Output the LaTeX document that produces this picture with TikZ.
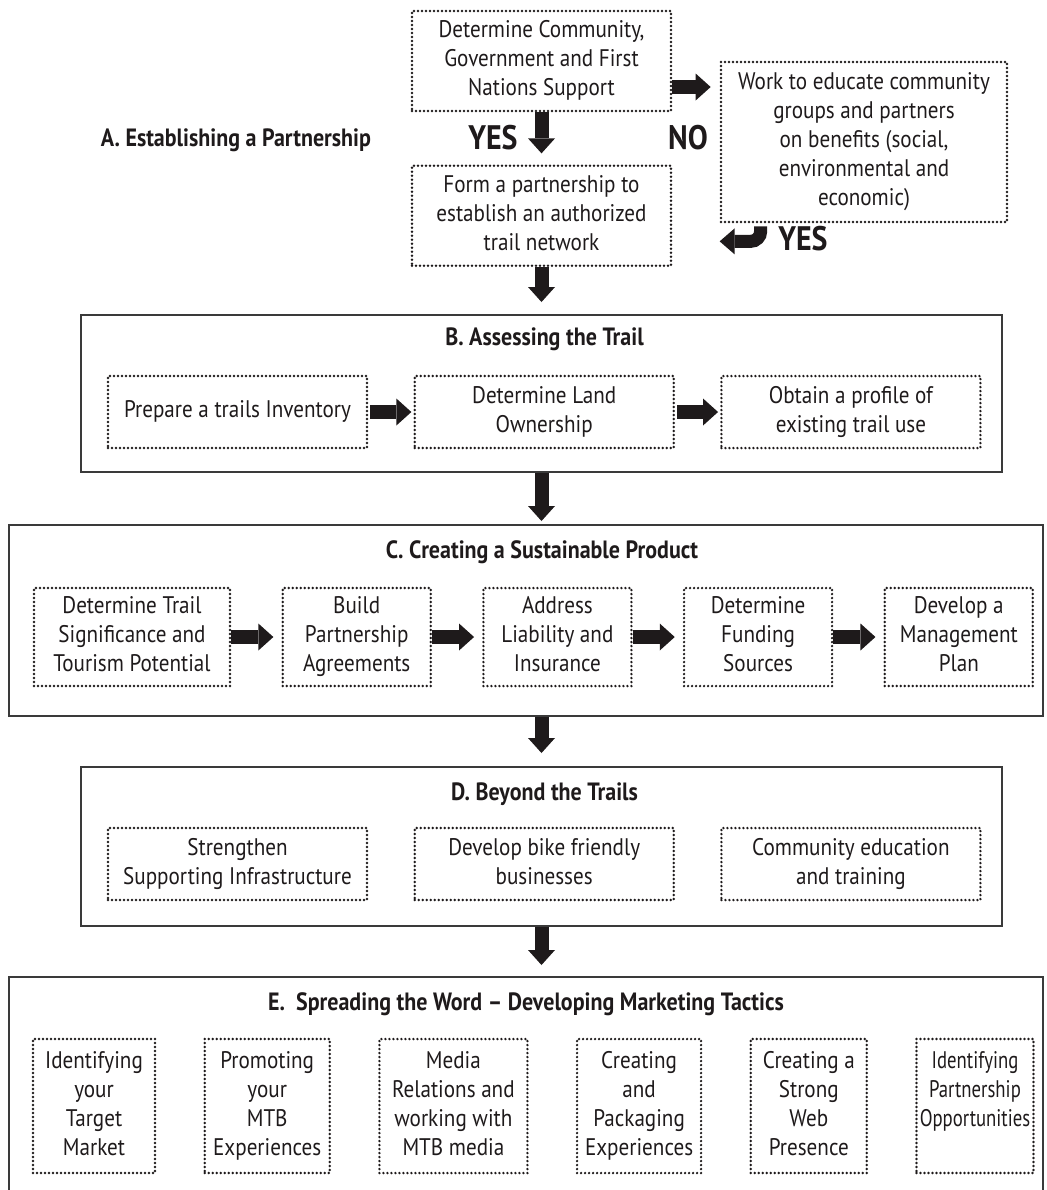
\documentclass[tikz,border=0pt]{standalone}
\usepackage{fontspec}
\setmainfont[FakeStretch=0.88]{PT Sans}
\usetikzlibrary{positioning,arrows.meta}

\definecolor{ink}{HTML}{1E1A1B}
\definecolor{framegray}{HTML}{3A3A3A}
\newcommand\boxstrut{\rule[-3pt]{0pt}{9.5pt}}

\tikzset{
  stepbox/.style={draw=ink, line width=1.35pt, line cap=round, dash pattern=on 0pt off 2pt,
    align=center, text=ink, inner sep=1pt, font=\fontsize{12}{14.5}\selectfont,
    execute at begin node=\boxstrut, execute at end node=\boxstrut},
  bbox/.style={stepbox, minimum width=129.5pt, minimum height=36pt},
  cbox/.style={stepbox, minimum width=74pt, minimum height=49pt},
  ebox/.style={stepbox, minimum height=67pt},
  frame/.style={draw=framegray, line width=1pt},
  ttl/.style={text=ink, font=\fontsize{12.5}{15}\bfseries},
  answer/.style={text=ink, font=\fontsize{17}{19}\bfseries},
  blockarrow/.style={draw=ink, line width=7pt, -{Triangle[length=7.5pt,width=13.5pt,line width=0pt]}}
}

\begin{document}
\begin{tikzpicture}[x=0.5pt, y=-0.5pt, node distance=22.5pt]
  \useasboundingbox (0,0) rectangle (1047,1190);

  % A. partnership
  \node[stepbox, minimum width=129.5pt, minimum height=50pt] (support) at (541.5,61)
    {Determine Community,\\Government and First\\Nations Support};
  \node[stepbox, minimum width=129.5pt, minimum height=50pt, below=26pt of support] (form)
    {Form a partnership to\\establish an authorized\\trail network};
  \node[stepbox, minimum width=143pt, minimum height=80pt] (educate) at (864,142)
    {Work to educate community\\groups and partners\\on benefits (social,\\environmental and\\economic)};
  \node[ttl] (titleA) at (236,140) {A. Establishing a Partnership};
  \node[answer] (yesA) at (493,138) {YES};
  \node[answer] (noA) at (688,138) {NO};
  \node[answer] (yesB) at (803,239) {YES};

  \draw[blockarrow, shorten >=5.5pt] (support) -- (form);
  \draw[blockarrow, shorten >=4.5pt] ([yshift=-13pt]support.east) -- ([yshift=-13pt]support.east -| educate.west);
  \coordinate (rettail) at ([xshift=20.5pt,yshift=-1.5pt]educate.south west);
  \coordinate (rettip) at ([yshift=-9pt]educate.south west);
  \draw[blockarrow, line width=6.5pt, -{Triangle[length=7.5pt,width=13pt,line width=0pt]}]
    (rettail) -- ++(0,5) to[out=-90,in=0] ++(-10,10) -- (rettip);

  % B. assessing
  \node[frame, minimum width=460.5pt, minimum height=78.5pt] (assess) at (541.5,393.5) {};
  \node[ttl] (titleB) at ([xshift=1.5pt,yshift=-12.5pt]assess.north) {B. Assessing the Trail};
  \node[bbox] (inventory) at (237.5,412) {Prepare a trails Inventory};
  \node[bbox, right=of inventory] (land) {Determine Land\\Ownership};
  \node[bbox, right=of land] (profile) {Obtain a profile of\\existing trail use};

  \draw[blockarrow, shorten >=6pt] (form) -- (assess);
  \draw[blockarrow, shorten <=1pt, shorten >=1pt] (inventory) -- (land);
  \draw[blockarrow, shorten <=1pt, shorten >=1pt] (land) -- (profile);

  % C. product
  \node[frame, minimum width=517pt, minimum height=95.5pt] (product) at (526,620.5) {};
  \node[ttl] (titleC) at ([xshift=8pt,yshift=-14pt]product.north) {C. Creating a Sustainable Product};
  \node[stepbox, minimum width=98pt, minimum height=49pt] (significance) at (132,637)
    {Determine Trail\\Significance and\\Tourism Potential};
  \node[cbox, right=25pt of significance] (agreements) {Build\\Partnership\\Agreements};
  \node[cbox, right=25pt of agreements] (liability) {Address\\Liability and\\Insurance};
  \node[cbox, right=25pt of liability] (funding) {Determine\\Funding\\Sources};
  \node[cbox, right=25pt of funding] (management) {Develop a\\Management\\Plan};

  \draw[blockarrow, shorten >=1.5pt] (assess.south) -- (assess.south |- product.north);
  \draw[blockarrow, shorten >=4pt] (significance) -- (agreements);
  \draw[blockarrow, shorten >=4pt] (agreements) -- (liability);
  \draw[blockarrow, shorten >=4pt] (liability) -- (funding);
  \draw[blockarrow, shorten >=4pt] (funding) -- (management);

  % D. beyond
  \node[frame, minimum width=460.5pt, minimum height=79.5pt] (beyond) at (541.5,846.5) {};
  \node[ttl] (titleD) at ([xshift=1.5pt,yshift=-14pt]beyond.north) {D. Beyond the Trails};
  \node[bbox] (infra) at (237.5,864) {Strengthen\\Supporting Infrastructure};
  \node[bbox, right=of infra] (bikebiz) {Develop bike friendly\\businesses};
  \node[bbox, right=of bikebiz] (training) {Community education\\and training};

  \draw[blockarrow, shorten >=6.5pt] (beyond.north |- product.south) -- (beyond.north);

  % E. marketing
  \node[frame, minimum width=517pt, minimum height=109pt] (marketing) at (526,1086) {};
  \node[ttl] (titleE) at ([yshift=-14pt]marketing.north) {E.\ \ Spreading the Word – Developing Marketing Tactics};
  \node[ebox, minimum width=61pt] (target) at (94,1106) {Identifying\\your\\Target\\Market};
  \node[ebox, minimum width=62.5pt, right=23.5pt of target] (promote) {Promoting\\your\\MTB\\Experiences};
  \node[ebox, minimum width=74pt, right=23.5pt of promote] (media) {Media\\Relations and\\working with\\MTB media};
  \node[ebox, minimum width=62pt, right=23.5pt of media] (packaging) {Creating\\and\\Packaging\\Experiences};
  \node[ebox, minimum width=58pt, right=23.5pt of packaging] (web) {Creating a\\Strong\\Web\\Presence};
  \node[ebox, minimum width=58.5pt, inner sep=0.5pt, right=23.5pt of web,
    font=\fontsize{12}{14.5}\selectfont\addfontfeatures{FakeStretch=0.78}] (partners)
    {Identifying\\Partnership\\Opportunities\\~};

  \draw[blockarrow, shorten >=5.5pt] (beyond.south) -- (beyond.south |- marketing.north);
\end{tikzpicture}
\end{document}
